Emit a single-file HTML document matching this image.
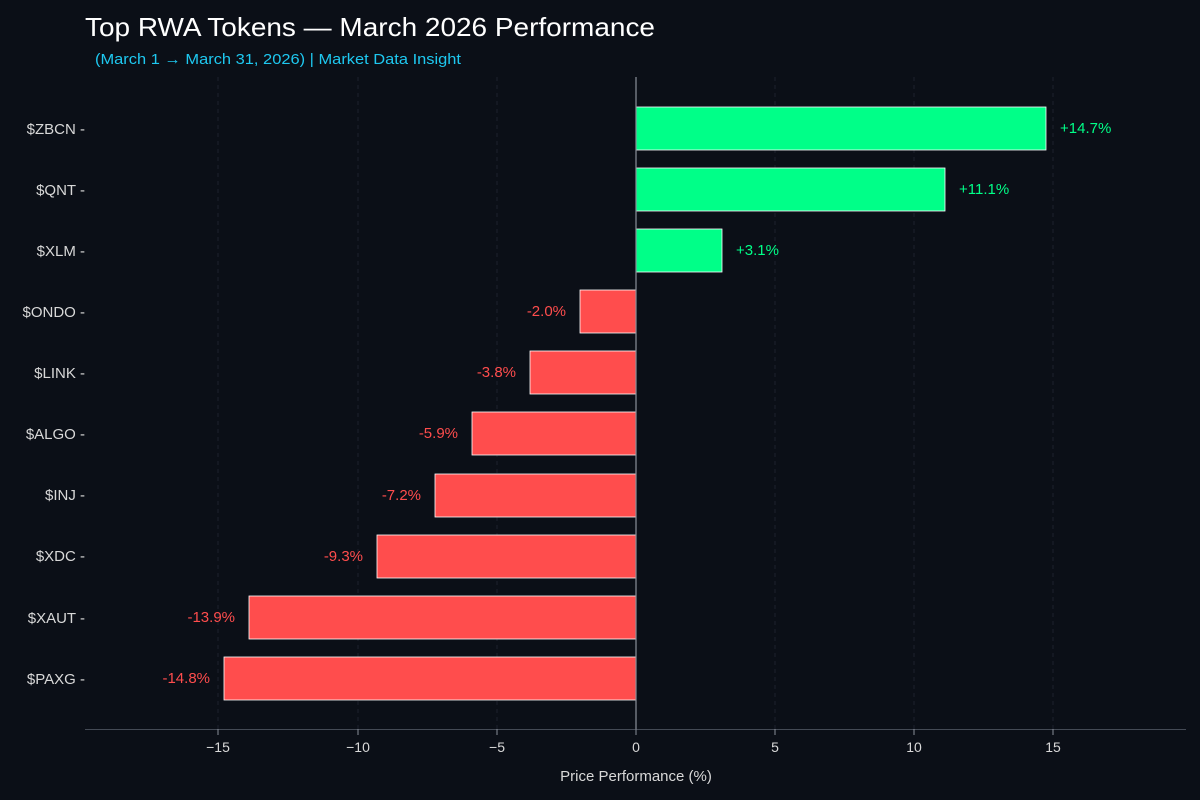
<!DOCTYPE html>
<html><head><meta charset="utf-8"><style>
body{margin:0;background:#0b0f17;}
svg{display:block;font-family:"Liberation Sans",sans-serif;}
</style></head><body>
<svg width="1200" height="800" viewBox="0 0 1200 800">
<rect width="1200" height="800" fill="#0b0f17"/>
<text x="85" y="36" font-size="26" fill="#ffffff" textLength="570" lengthAdjust="spacingAndGlyphs">Top RWA Tokens — March 2026 Performance</text>
<text x="95" y="64" font-size="15" fill="#1ec8f0" textLength="366" lengthAdjust="spacingAndGlyphs">(March 1 → March 31, 2026) | Market Data Insight</text>
<g stroke="#1d222c" stroke-dasharray="4,4" stroke-width="1">
<line x1="218" y1="77" x2="218" y2="729"/><line x1="358" y1="77" x2="358" y2="729"/>
<line x1="497" y1="77" x2="497" y2="729"/><line x1="775" y1="77" x2="775" y2="729"/>
<line x1="914" y1="77" x2="914" y2="729"/><line x1="1053" y1="77" x2="1053" y2="729"/>
</g>
<line x1="85" y1="729.5" x2="1186" y2="729.5" stroke="#444a55"/>
<g stroke="#ffffff" stroke-width="0.8">
<rect x="636" y="107" width="410" height="43" fill="#00ff88"/>
<rect x="636" y="168" width="309" height="43" fill="#00ff88"/>
<rect x="636" y="229" width="86" height="43" fill="#00ff88"/>
<rect x="580" y="290" width="56" height="43" fill="#ff4d4d"/>
<rect x="530" y="351" width="106" height="43" fill="#ff4d4d"/>
<rect x="472" y="412" width="164" height="43" fill="#ff4d4d"/>
<rect x="435" y="474" width="201" height="43" fill="#ff4d4d"/>
<rect x="377" y="535" width="259" height="43" fill="#ff4d4d"/>
<rect x="249" y="596" width="387" height="43" fill="#ff4d4d"/>
<rect x="224" y="657" width="412" height="43" fill="#ff4d4d"/>
</g>
<line x1="636" y1="77" x2="636" y2="729" stroke="#8a8f99" stroke-width="1.2"/>
<g font-size="15">
<text x="1060" y="133" fill="#00ff88">+14.7%</text>
<text x="959" y="194" fill="#00ff88">+11.1%</text>
<text x="736" y="255" fill="#00ff88">+3.1%</text>
<g fill="#ff4d4d" text-anchor="end">
<text x="566" y="316">-2.0%</text>
<text x="516" y="377">-3.8%</text>
<text x="458" y="438">-5.9%</text>
<text x="421" y="500">-7.2%</text>
<text x="363" y="561">-9.3%</text>
<text x="235" y="622">-13.9%</text>
<text x="210" y="683">-14.8%</text>
</g></g>
<g font-size="15" fill="#d8d8d8" text-anchor="end">
<text x="85" y="134">$ZBCN -</text>
<text x="85" y="195">$QNT -</text>
<text x="85" y="256">$XLM -</text>
<text x="85" y="317">$ONDO -</text>
<text x="85" y="378">$LINK -</text>
<text x="85" y="439">$ALGO -</text>
<text x="85" y="500">$INJ -</text>
<text x="85" y="561">$XDC -</text>
<text x="85" y="623">$XAUT -</text>
<text x="85" y="684">$PAXG -</text>
</g>
<g stroke="#8a8f99"><line x1="218" y1="729" x2="218" y2="735"/><line x1="358" y1="729" x2="358" y2="735"/><line x1="497" y1="729" x2="497" y2="735"/><line x1="636" y1="729" x2="636" y2="735"/><line x1="775" y1="729" x2="775" y2="735"/><line x1="914" y1="729" x2="914" y2="735"/><line x1="1053" y1="729" x2="1053" y2="735"/></g>
<g font-size="14" fill="#d8d8d8" text-anchor="middle">
<text x="218" y="752">−15</text><text x="358" y="752">−10</text><text x="497" y="752">−5</text>
<text x="636" y="752">0</text><text x="775" y="752">5</text><text x="914" y="752">10</text><text x="1053" y="752">15</text>
</g>
<text x="636" y="781" font-size="15" fill="#d8d8d8" text-anchor="middle">Price Performance (%)</text>
</svg>
</body></html>
